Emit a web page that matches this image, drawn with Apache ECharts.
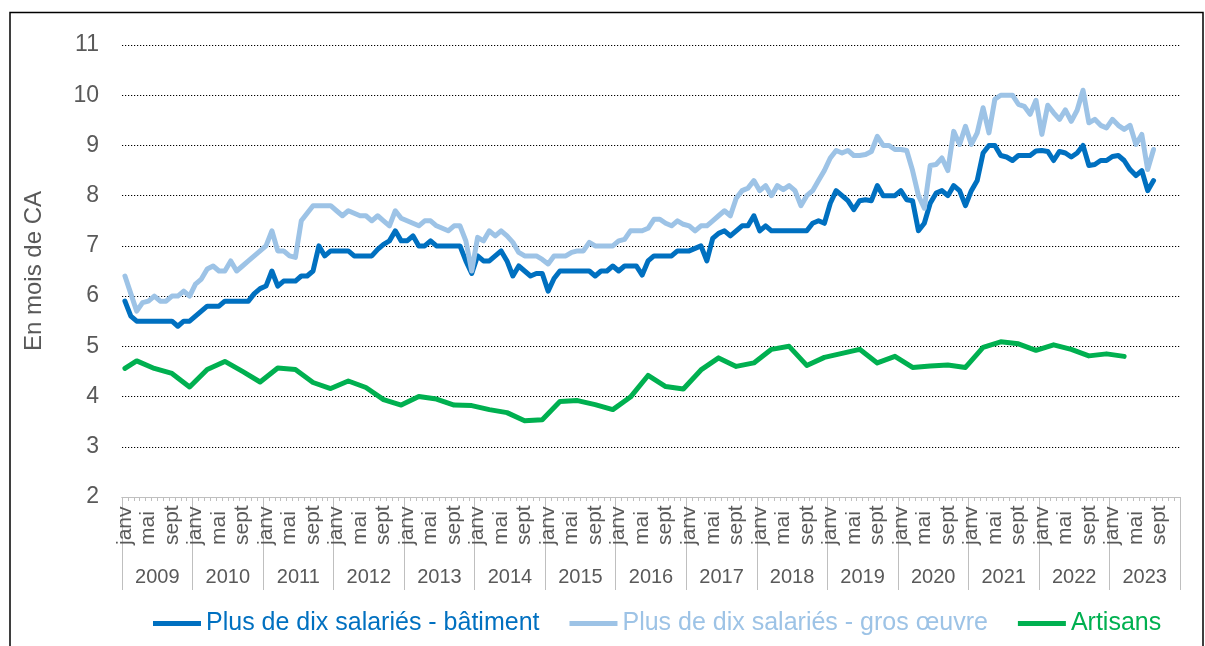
<!DOCTYPE html>
<html>
<head>
<meta charset="utf-8">
<script src="https://cdn.jsdelivr.net/npm/echarts@6/dist/echarts.min.js"></script>
<style>
body{margin:0;background:#fff;}
#main{width:1205px;height:646px;}
</style>
</head>
<body>
<div id="main"></div>
<script type="text/javascript">
// axe des catégories : années et mois
var annees = ['2009','2010','2011','2012','2013','2014','2015','2016','2017','2018','2019','2020','2021','2022','2023'];
var nomsMois = ['janv','févr','mars','avr','mai','juin','juil','août','sept','oct','nov','déc'];

// Plus de dix salariés - bâtiment (mensuel, janv 2009 -> août 2023)
var batiment = [
	5.9, 5.6, 5.5, 5.5, 5.5, 5.5, 5.5, 5.5, 5.5, 5.4, 5.5, 5.5,
	5.6, 5.7, 5.8, 5.8, 5.8, 5.9, 5.9, 5.9, 5.9, 5.9, 6.05, 6.15,
	6.2, 6.5, 6.2, 6.3, 6.3, 6.3, 6.4, 6.4, 6.5, 7.0, 6.8, 6.9,
	6.9, 6.9, 6.9, 6.8, 6.8, 6.8, 6.8, 6.93, 7.03, 7.1, 7.3, 7.1,
	7.1, 7.2, 7.0, 7.0, 7.1, 7.0, 7.0, 7.0, 7.0, 7.0, 6.7, 6.45,
	6.8, 6.7, 6.7, 6.8, 6.9, 6.7, 6.4, 6.6, 6.5, 6.4, 6.45, 6.45,
	6.1, 6.35, 6.5, 6.5, 6.5, 6.5, 6.5, 6.5, 6.4, 6.5, 6.5, 6.6,
	6.5, 6.6, 6.6, 6.6, 6.42, 6.7, 6.8, 6.8, 6.8, 6.8, 6.9, 6.9,
	6.9, 6.95, 7.0, 6.7, 7.15, 7.25, 7.3, 7.2, 7.3, 7.4, 7.4, 7.6,
	7.3, 7.4, 7.3, 7.3, 7.3, 7.3, 7.3, 7.3, 7.3, 7.45, 7.5, 7.45,
	7.85, 8.1, 8.0, 7.9, 7.72, 7.9, 7.92, 7.9, 8.2, 8.0, 8.0, 8.0,
	8.1, 7.92, 7.9, 7.3, 7.45, 7.85, 8.05, 8.1, 8.0, 8.2, 8.1, 7.8,
	8.1, 8.3, 8.85, 9.0, 9.0, 8.8, 8.77, 8.7, 8.8, 8.8, 8.8, 8.89,
	8.9, 8.88, 8.7, 8.88, 8.85, 8.77, 8.85, 9.0, 8.6, 8.62, 8.7, 8.7,
	8.78, 8.8, 8.7, 8.52, 8.4, 8.5, 8.1, 8.3
];

// Plus de dix salariés - gros oeuvre
var grosOeuvre = [
	6.4, 6.05, 5.7, 5.87, 5.9, 6.0, 5.9, 5.9, 6.0, 6.0, 6.1, 6.0,
	6.24, 6.34, 6.54, 6.6, 6.5, 6.5, 6.7, 6.5, 6.6, 6.7, 6.8, 6.9,
	7.0, 7.3, 6.9, 6.9, 6.8, 6.77, 7.5, 7.65, 7.8, 7.8, 7.8, 7.8,
	7.7, 7.6, 7.7, 7.65, 7.6, 7.6, 7.5, 7.6, 7.5, 7.4, 7.7, 7.55,
	7.5, 7.45, 7.4, 7.5, 7.5, 7.4, 7.35, 7.3, 7.4, 7.4, 7.1, 6.5,
	7.17, 7.1, 7.3, 7.2, 7.3, 7.2, 7.07, 6.87, 6.8, 6.8, 6.8, 6.73,
	6.64, 6.8, 6.8, 6.8, 6.87, 6.9, 6.9, 7.07, 7.0, 7.0, 7.0, 7.0,
	7.1, 7.13, 7.3, 7.3, 7.3, 7.35, 7.53, 7.53, 7.45, 7.4, 7.5, 7.43,
	7.4, 7.3, 7.4, 7.4, 7.5, 7.6, 7.7, 7.6, 7.95, 8.1, 8.15, 8.3,
	8.1, 8.2, 8.0, 8.2, 8.12, 8.2, 8.1, 7.8, 8.0, 8.1, 8.3, 8.5,
	8.75, 8.9, 8.85, 8.9, 8.8, 8.8, 8.82, 8.88, 9.18, 9.0, 9.0, 8.92,
	8.92, 8.9, 8.5, 8.0, 7.75, 8.6, 8.62, 8.75, 8.5, 9.28, 9.02, 9.38,
	9.02, 9.25, 9.75, 9.25, 9.92, 10.0, 10.0, 10.0, 9.82, 9.78, 9.62, 9.9,
	9.22, 9.8, 9.65, 9.52, 9.71, 9.48, 9.7, 10.1, 9.45, 9.52, 9.4, 9.35,
	9.52, 9.4, 9.32, 9.4, 9.02, 9.22, 8.52, 8.92
];

// Artisans : janv 2009 puis trimestriel (mars, juin, sept, déc)
var artisansDebut = 4.56;
var artisans = [
	4.71, 4.56, 4.46, 4.19, 4.54, 4.7, 4.5, 4.29, 4.57, 4.54, 4.28, 4.16,
	4.31, 4.18, 3.94, 3.83, 4.0, 3.95, 3.83, 3.82, 3.74, 3.68, 3.52, 3.54,
	3.9, 3.92, 3.84, 3.74, 3.99, 4.42, 4.2, 4.15, 4.53, 4.77, 4.6, 4.67,
	4.94, 5.0, 4.62, 4.78, 4.86, 4.94, 4.67, 4.8, 4.58, 4.61, 4.63, 4.58,
	4.98, 5.09, 5.05, 4.92, 5.03, 4.94, 4.81, 4.85, 4.8
];

var ticksY = [2, 11, 1]; // min, max, pas

var police = '"Liberation Sans", Arial, sans-serif';
var gris = '#595959';

// catégories mensuelles
var mois = [];
annees.forEach(function(a){
	nomsMois.forEach(function(m){ mois.push(m + ' ' + a); });
});

// série artisans placée sur les mois
var artisansMois = [];
for (var i = 0; i < batiment.length; i++) artisansMois.push(null);
artisansMois[0] = artisansDebut;
artisans.forEach(function(v, k){ artisansMois[2 + 3 * k] = v; });

var myChart = echarts.init(document.getElementById('main'));

var option = {
	animation: false,
	textStyle: {fontFamily: police},
	grid: {left: 122, right: 25, top: 45, bottom: 149},
	graphic: [{
		type: 'rect', silent: true,
		shape: {x: 10, y: 12.5, width: 1193, height: 660},
		style: {fill: 'none', stroke: '#000', lineWidth: 1.5}
	}],
	legend: {
		left: 153, top: 611, padding: 0,
		icon: 'rect', itemWidth: 48, itemHeight: 5, itemGap: 30,
		textStyle: {fontSize: 25, fontFamily: police},
		data: [
			{name: 'Plus de dix salariés - bâtiment', textStyle: {color: '#0070C0'}},
			{name: 'Plus de dix salariés - gros œuvre', textStyle: {color: '#9DC3E6'}},
			{name: 'Artisans', textStyle: {color: '#00B050'}}
		]
	},
	xAxis: [{
		type: 'category', data: mois, position: 'bottom', boundaryGap: true,
		axisLine: {lineStyle: {color: '#bfbfbf', width: 1}},
		axisTick: {show: true, interval: 0, length: 4, lineStyle: {color: '#bfbfbf'}},
		axisLabel: {
			interval: function(idx){ return idx % 4 === 0; },
			formatter: function(v){ return v.split(' ')[0]; },
			rotate: 90, align: 'left', margin: 48,
			fontSize: 21, color: gris, fontFamily: police
		}
	}, {
		// séparateurs des années
		type: 'category', data: annees, position: 'bottom', boundaryGap: true,
		axisLine: {show: true, lineStyle: {color: '#bfbfbf', width: 1}},
		axisTick: {show: true, interval: 0, length: 93, lineStyle: {color: '#bfbfbf', width: 1}},
		axisLabel: {interval: 0, margin: 70, fontSize: 20, color: gris, fontFamily: police}
	}],
	yAxis: {
		type: 'value', min: ticksY[0], max: ticksY[1], interval: ticksY[2],
		axisLine: {show: false}, axisTick: {show: false},
		axisLabel: {fontSize: 23, color: gris, margin: 23, fontFamily: police},
		splitLine: {lineStyle: {color: '#000', type: [1.2, 1.8], width: 1.2}},
		name: 'En mois de CA', nameLocation: 'middle', nameRotate: 90, nameGap: 76,
		nameTextStyle: {fontSize: 24, color: gris, fontFamily: police}
	},
	series: [{
		name: 'Plus de dix salariés - bâtiment', type: 'line', data: batiment,
		symbol: 'none', color: '#0070C0',
		lineStyle: {width: 5, color: '#0070C0', cap: 'round', join: 'round'}
	}, {
		name: 'Plus de dix salariés - gros œuvre', type: 'line', data: grosOeuvre,
		symbol: 'none', color: '#9DC3E6',
		lineStyle: {width: 5, color: '#9DC3E6', cap: 'round', join: 'round'}
	}, {
		name: 'Artisans', type: 'line', data: artisansMois, connectNulls: true,
		symbol: 'none', color: '#00B050',
		lineStyle: {width: 5, color: '#00B050', cap: 'round', join: 'round'}
	}]
};

myChart.setOption(option);
</script>
</body>
</html>
